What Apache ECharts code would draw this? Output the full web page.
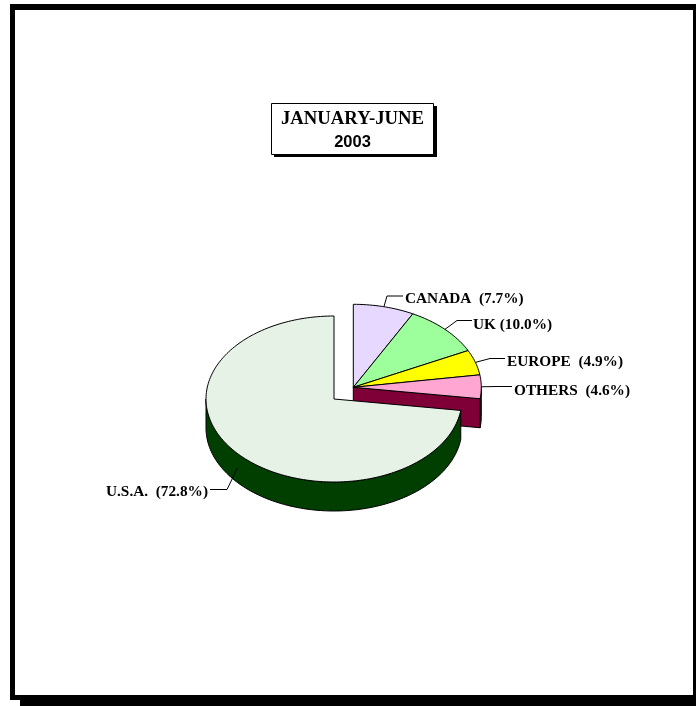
<!DOCTYPE html>
<html><head><meta charset="utf-8">
<style>html,body{margin:0;padding:0;background:#fff}#c{width:696px;height:706px}</style>
<script src="https://cdn.jsdelivr.net/npm/echarts@6/dist/echarts.min.js"></script>
</head><body><div id="c"></div>
<script>
const categories = ['CANADA', 'UK', 'EUROPE', 'OTHERS', 'U.S.A.'];
const shares = [7.7, 10.0, 4.9, 4.6, 72.8];
const labelGaps = ['  ', ' ', '  ', '  ', '  '];
const topColors = ['#E6D8FF', '#9CFF9C', '#FFFF00', '#FFA6D2', '#E6F2E6'];
const sideColors = ['#4D3A73', '#1F7F1F', '#7F7F00', '#7F0037', '#003F00'];

// Layout of the tilted pie (kept apart from the data)
const RX = 128, RY = 83, DEPTH = 29;
const clusterCentre = [353.3, 387.3], mainCentre = [334, 399];
const isMain = [false, false, false, false, true];
const labelLayout = [
  {elbow: [387, 296], end: [403, 296], text: [405, 299], align: 'left'},
  {elbow: [457, 320.5], end: [472, 320.5], text: [473, 325], align: 'left'},
  {elbow: [490, 358.5], end: [505, 358.5], text: [507, 362], align: 'left'},
  {elbow: [497, 386.5], end: [512, 386.5], text: [514, 391], align: 'left'},
  {elbow: [227, 489.5], end: [210, 489.5], text: [106, 492], align: 'left'}
];

function pt(c, deg, dy) {
  const a = deg * Math.PI / 180;
  return [c[0] + RX * Math.sin(a), c[1] - RY * Math.cos(a) + (dy || 0)];
}
function arc(c, from, to, dy) {
  const n = Math.max(2, Math.ceil(Math.abs(to - from) / 1.5)), out = [];
  for (let i = 0; i <= n; i++) out.push(pt(c, from + (to - from) * i / n, dy));
  return out;
}
const stroke = {stroke: '#000', lineWidth: 1, lineJoin: 'round'};

function renderSlice(params, api) {
  const i = params.dataIndex, start = api.value(1) * 3.6, end = api.value(2) * 3.6;
  const c = isMain[i] ? mainCentre : clusterCentre, kids = [];
  const wallFrom = Math.max(start, 90), wallTo = Math.min(end, 270);
  if (isMain[i] && wallTo > wallFrom) {
    kids.push({type: 'polygon', shape: {points: arc(c, wallFrom, wallTo, 0).concat(arc(c, wallTo, wallFrom, DEPTH))},
      style: Object.assign({fill: sideColors[i]}, stroke)});
  } else if (wallTo > wallFrom) {
    const e = pt(c, end);
    kids.push({type: 'polygon', shape: {points: arc(c, wallFrom, wallTo, 0).concat(arc(c, wallTo, wallFrom, DEPTH))},
      style: Object.assign({fill: sideColors[i]}, stroke)});
    kids.push({type: 'polygon', shape: {points: [c, e, [e[0], e[1] + DEPTH], [c[0], c[1] + DEPTH]]},
      style: Object.assign({fill: sideColors[i]}, stroke)});
  }
  kids.push({type: 'polygon', shape: {points: [c].concat(arc(c, start, end, 0))},
    style: Object.assign({fill: topColors[i]}, stroke)});
  return {type: 'group', children: kids};
}

function renderLabel(params, api) {
  const i = params.dataIndex, L = labelLayout[i];
  const mid = (api.value(1) + api.value(2)) * 1.8;
  const c = isMain[i] ? mainCentre : clusterCentre;
  const from = pt(c, mid, isMain[i] ? DEPTH / 2 : 0);
  return {type: 'group', children: [
    {type: 'polyline', shape: {points: [from, L.elbow, L.end]}, style: {fill: 'none', stroke: '#000', lineWidth: 1}},
    {type: 'text', style: {text: categories[i] + labelGaps[i] + '(' + api.value(0).toFixed(1) + '%)',
      x: L.text[0], y: L.text[1], textAlign: L.align, textVerticalAlign: 'middle', fill: '#000',
      font: 'bold 15.3px "Liberation Serif"'}}
  ]};
}

let cum = 0;
const rows = shares.map(v => { const r = [v, cum, cum + v]; cum += v; return r; });

const chart = echarts.init(document.getElementById('c'), null, {renderer: 'canvas', devicePixelRatio: 1});
chart.setOption({
  animation: false,
  backgroundColor: '#fff',
  title: {
    text: '{a|JANUARY-JUNE}\n{b|2003}', left: 352.5, top: 107, textAlign: 'center', padding: 0, z: 10,
    textStyle: {rich: {
      a: {fontFamily: 'Liberation Serif', fontWeight: 'bold', fontSize: 18.7, color: '#000', lineHeight: 24, align: 'center'},
      b: {fontFamily: 'Liberation Sans', fontWeight: 'bold', fontSize: 16.5, color: '#000', lineHeight: 22, align: 'center'}
    }}
  },
  graphic: [
    {type: 'rect', z: 0, shape: {x: 10, y: 4, width: 690, height: 696}, style: {fill: '#000'}},
    {type: 'rect', z: 0, shape: {x: 20, y: 14, width: 680, height: 692}, style: {fill: '#000'}},
    {type: 'rect', z: 1, shape: {x: 15, y: 10, width: 678, height: 685}, style: {fill: '#fff'}},
    {type: 'rect', z: 2, shape: {x: 274, y: 106, width: 163, height: 51}, style: {fill: '#000'}},
    {type: 'rect', z: 3, shape: {x: 271.5, y: 103.5, width: 162, height: 51}, style: {fill: '#fff', stroke: '#000', lineWidth: 1}}
  ],
  series: [
    {type: 'custom', coordinateSystem: 'none', z: 4, data: rows, renderItem: renderSlice, silent: true},
    {type: 'custom', coordinateSystem: 'none', z: 5, data: rows, renderItem: renderLabel, silent: true}
  ]
});
</script></body></html>
